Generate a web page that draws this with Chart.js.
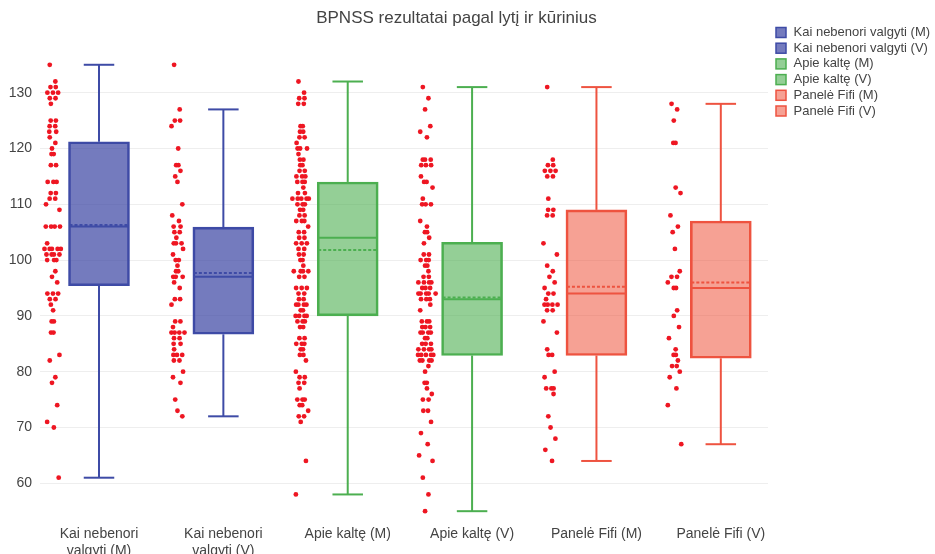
<!DOCTYPE html>
<html>
<head>
<meta charset="utf-8">
<script src="https://cdn.jsdelivr.net/npm/chart.js@4.4.1/dist/chart.umd.min.js"></script>
<style>
  html, body { margin: 0; padding: 0; background: #ffffff; }
  #wrap { width: 935px; height: 554px; position: relative; }
</style>
</head>
<body>
<div id="wrap"><canvas id="chart" width="935" height="554"></canvas></div>
<script>
// ---- Data -------------------------------------------------------------
const chartTitle = 'BPNSS rezultatai pagal lytį ir kūrinius';
const categories = [
  'Kai nebenori valgyti (M)', 'Kai nebenori valgyti (V)',
  'Apie kaltę (M)', 'Apie kaltę (V)',
  'Panelė Fifi (M)', 'Panelė Fifi (V)'
];
const tickLabels = [
  ['Kai nebenori', 'valgyti (M)'], ['Kai nebenori', 'valgyti (V)'],
  'Apie kaltę (M)', 'Apie kaltę (V)', 'Panelė Fifi (M)', 'Panelė Fifi (V)'
];
const yTicks = [60, 70, 80, 90, 100, 110, 120, 130];

// box statistics per group
const whiskerLow  = [61, 72, 58, 55, 64, 67];
const q1          = [95.4, 86.7, 90, 82.9, 82.9, 82.4];
const medians     = [106, 97, 104, 93, 94, 95];
const q3          = [121.2, 105.9, 114, 103.2, 109, 107];
const whiskerHigh = [135, 127, 132, 131, 131, 128];
const means       = [106.3, 97.7, 101.8, 93.3, 95.2, 96.0];

// individual scores per group
const scoresKaiM = [135, 132, 131, 131, 130, 130, 130, 129, 129, 128, 125, 125, 124, 124, 123, 123, 122, 121, 120,
  119, 119, 117, 117, 114, 114, 114, 112, 112, 111, 111, 110, 109, 106, 106, 106, 106, 103, 102, 102, 102, 102, 102,
  101, 101, 101, 101, 100, 100, 100, 98, 97, 96, 94, 94, 94, 93, 93, 92, 91, 89, 89, 87, 87, 83, 82, 79, 78, 74, 71, 70, 61];
const scoresKaiV = [135, 127, 125, 125, 124, 120, 117, 117, 116, 115, 114, 110, 108, 107, 106, 106, 105, 105, 104,
  103, 103, 103, 102, 101, 100, 100, 99, 98, 98, 97, 97, 97, 96, 95, 93, 93, 92, 89, 89, 88, 87, 87, 87, 87, 86, 86,
  85, 85, 84, 83, 83, 83, 82, 82, 80, 79, 78, 75, 73, 72];
const scoresApieM = [132, 130, 129, 129, 128, 128, 124, 124, 123, 123, 122, 122, 121, 120, 120, 120, 119, 118, 118,
  117, 117, 116, 116, 115, 115, 115, 114, 114, 114, 113, 112, 112, 111, 111, 111, 111, 111, 110, 110, 110, 109, 109,
  108, 108, 107, 107, 107, 106, 105, 105, 104, 104, 103, 103, 103, 102, 102, 101, 101, 100, 100, 99, 98, 98, 98, 98,
  97, 97, 95, 95, 95, 94, 94, 93, 93, 92, 92, 92, 92, 91, 91, 90, 90, 90, 90, 89, 89, 89, 88, 88, 86, 86, 85, 85, 85,
  84, 84, 83, 83, 82, 80, 79, 79, 78, 78, 77, 75, 75, 75, 74, 74, 73, 72, 72, 71, 64, 58];
const scoresApieV = [131, 129, 127, 124, 123, 122, 118, 118, 118, 117, 117, 117, 115, 114, 114, 113, 111, 110, 110, 110,
  107, 106, 105, 105, 104, 103, 101, 101, 100, 100, 100, 99, 99, 98, 97, 97, 96, 96, 96, 96, 95, 95, 95,
  94, 94, 94, 94, 94, 93, 93, 93, 92, 91, 89, 89, 89, 88, 88, 88, 87, 87, 87, 87, 86, 86, 85, 85, 85, 84, 84, 84, 84,
  83, 83, 83, 83, 83, 82, 82, 82, 82, 81, 80, 78, 78, 77, 76, 75, 75, 73, 73, 71, 69, 67, 65, 64, 61, 58, 55];
const scoresFifiM = [131, 118, 117, 117, 116, 116, 116, 115, 115, 111, 109, 109, 108, 108, 103, 101, 99, 98, 97, 96, 95,
  94, 94, 93, 92, 92, 92, 92, 91, 91, 89, 87, 84, 83, 83, 80, 79, 77, 77, 77, 76, 72, 70, 68, 66, 64];
const scoresFifiV = [128, 127, 125, 121, 121, 113, 112, 108, 106, 105, 102, 98, 97, 97, 96, 95, 95, 91, 90, 88, 86, 84,
  83, 83, 82, 81, 81, 80, 79, 77, 74, 67];
const scoreGroups = [scoresKaiM, scoresKaiV, scoresApieM, scoresApieV, scoresFifiM, scoresFifiV];

// ---- Styling ----------------------------------------------------------
const boxFill   = ['rgba(63,72,165,0.72)', 'rgba(63,72,165,0.72)', 'rgba(76,175,80,0.6)', 'rgba(76,175,80,0.6)',
                   'rgba(239,83,60,0.55)', 'rgba(239,83,60,0.55)'];
const boxLine   = ['#3e4ba6', '#3e4ba6', '#4caf50', '#4caf50', '#ee5340', '#ee5340'];
const pointColor = 'rgb(238,22,34)';
const textColor = '#444444';
const fontFamily = '"Liberation Sans", Arial, sans-serif';
const BOX_PX = 61;            // box width in pixels
const POINT_SHIFT = -0.372;   // points sit to the left of each box (category units)
const DUP_STEP = 0.034;       // horizontal step between equal scores
const jitterPattern = [-0.4, 0.35, -0.1, 0.6, -0.75, 0.15, 0.8, -0.55, 0.45, -0.25, 0.05, 0.7, -0.65, 0.25, -0.9, 0.9];

// place points of one group in a narrow strip next to its box
function stripPoints(values, groupIndex) {
  const counts = {};
  values.forEach(v => { counts[v] = (counts[v] || 0) + 1; });
  const seen = {};
  let k = 0;
  return values.map(v => {
    const n = counts[v];
    const j = seen[v] = (seen[v] || 0) + 1;
    const base = jitterPattern[k++ % jitterPattern.length];
    let off;
    if (n === 1) off = base * 0.06;
    else off = ((j - 1) - (n - 1) / 2) * DUP_STEP + base * 0.012;
    off = Math.max(-0.08, Math.min(0.08, off));
    return { x: groupIndex + POINT_SHIFT + off, y: v };
  });
}

const boxDatasets = categories.map((name, i) => ({
  type: 'bar',
  label: name,
  data: [{ x: i, y: [q1[i], q3[i]] }],
  backgroundColor: boxFill[i],
  borderColor: boxLine[i],
  borderWidth: 2,
  borderSkipped: false,
  barThickness: BOX_PX,
  grouped: false,
  order: 2
}));

const pointDatasets = scoreGroups.map((vals, i) => ({
  type: 'scatter',
  label: categories[i] + ' taškai',
  data: stripPoints(vals, i),
  backgroundColor: pointColor,
  borderWidth: 0,
  pointRadius: 2.4,
  pointHoverRadius: 2.4,
  order: 1
}));

// whiskers, caps, median and mean lines drawn on the value scale
const boxDetails = {
  id: 'boxDetails',
  afterDatasetsDraw(chart) {
    const { ctx, scales: { x, y } } = chart;
    const half = BOX_PX / 2;
    const capHalf = BOX_PX / 4;
    const seg = (x1, y1, x2, y2) => { ctx.beginPath(); ctx.moveTo(x1, y1); ctx.lineTo(x2, y2); ctx.stroke(); };
    categories.forEach((_, i) => {
      const cx = x.getPixelForValue(i);
      ctx.save();
      ctx.strokeStyle = boxLine[i];
      ctx.lineWidth = 2;
      seg(cx, y.getPixelForValue(q3[i]), cx, y.getPixelForValue(whiskerHigh[i]));
      seg(cx - capHalf, y.getPixelForValue(whiskerHigh[i]), cx + capHalf, y.getPixelForValue(whiskerHigh[i]));
      seg(cx, y.getPixelForValue(q1[i]), cx, y.getPixelForValue(whiskerLow[i]));
      seg(cx - capHalf, y.getPixelForValue(whiskerLow[i]), cx + capHalf, y.getPixelForValue(whiskerLow[i]));
      seg(cx - half + 1, y.getPixelForValue(medians[i]), cx + half - 1, y.getPixelForValue(medians[i]));
      ctx.setLineDash([3, 2]);
      seg(cx - half + 1, y.getPixelForValue(means[i]), cx + half - 1, y.getPixelForValue(means[i]));
      ctx.restore();
    });
  }
};

// title and legend
const decor = {
  id: 'decor',
  afterDraw(chart) {
    const { ctx } = chart;
    ctx.save();
    ctx.fillStyle = textColor;
    ctx.font = '17px ' + fontFamily;
    ctx.textAlign = 'center';
    ctx.textBaseline = 'middle';
    ctx.fillText(chartTitle, 456.5, 18);

    ctx.font = '13px ' + fontFamily;
    ctx.textAlign = 'left';
    chart.data.datasets.filter(d => d.type === 'bar').forEach((d, i) => {
      const cy = 32.5 + i * 15.7;
      ctx.fillStyle = '#ffffff';
      ctx.fillRect(776, cy - 5, 10, 10);
      ctx.fillStyle = d.backgroundColor;
      ctx.fillRect(776, cy - 5, 10, 10);
      ctx.strokeStyle = d.borderColor;
      ctx.lineWidth = 1.5;
      ctx.strokeRect(776, cy - 5, 10, 10);
      ctx.fillStyle = textColor;
      ctx.fillText(d.label, 793.5, cy);
    });
    ctx.restore();
  }
};

new Chart(document.getElementById('chart'), {
  type: 'bar',
  data: { datasets: [...boxDatasets, ...pointDatasets] },
  options: {
    responsive: false,
    animation: false,
    devicePixelRatio: 1,
    layout: { padding: { top: 40, right: 167, bottom: 0, left: 0 } },
    plugins: {
      legend: { display: false },
      title: { display: false },
      tooltip: { enabled: false }
    },
    scales: {
      x: {
        type: 'linear',
        offset: false,
        min: -0.4744,
        max: 5.3795,
        afterFit: s => { s.height = 34; },
        afterBuildTicks: s => { s.ticks = categories.map((_, i) => ({ value: i })); },
        grid: { display: false, drawTicks: false },
        border: { display: false },
        ticks: {
          autoSkip: false,
          maxRotation: 0,
          minRotation: 0,
          padding: 6,
          color: textColor,
          font: { family: fontFamily, size: 14 },
          callback: v => tickLabels[v]
        }
      },
      y: {
        type: 'linear',
        min: 53.42,
        max: 139.44,
        afterFit: s => { s.width = 40; },
        afterBuildTicks: s => { s.ticks = yTicks.map(v => ({ value: v })); },
        grid: { color: '#eeeeee', lineWidth: 1, drawTicks: false },
        border: { display: false },
        ticks: {
          padding: 8,
          color: textColor,
          font: { family: fontFamily, size: 14 }
        }
      }
    }
  },
  plugins: [boxDetails, decor]
});
</script>
</body>
</html>
